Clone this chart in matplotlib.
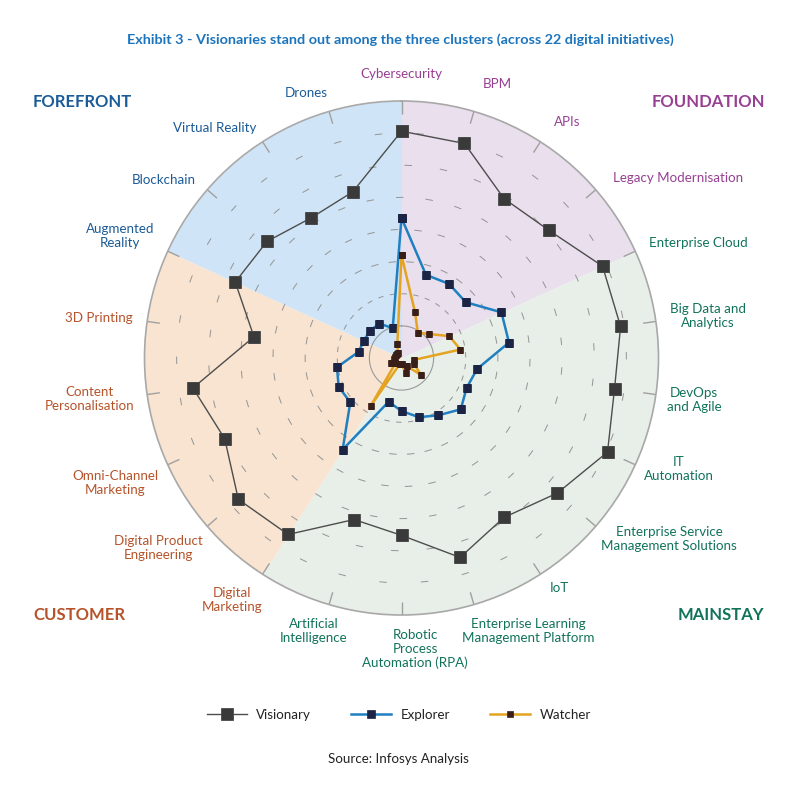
import numpy as np
import matplotlib
matplotlib.use("Agg")
import matplotlib.pyplot as plt
import matplotlib.font_manager as fm

# ---------------- data ----------------
categories = [
    "Cybersecurity", "BPM", "APIs", "Legacy Modernisation",
    "Enterprise Cloud", "Big Data and\nAnalytics", "DevOps\nand Agile", "IT\nAutomation",
    "Enterprise Service\nManagement Solutions", "IoT", "Enterprise Learning\nManagement Platform",
    "Robotic\nProcess\nAutomation (RPA)", "Artificial\nIntelligence",
    "Digital\nMarketing", "Digital Product\nEngineering", "Omni-Channel\nMarketing",
    "Content\nPersonalisation", "3D Printing",
    "Augmented\nReality", "Blockchain", "Virtual Reality", "Drones",
]
# cluster membership (in clockwise order starting at Cybersecurity)
groups = ["FOUNDATION", "MAINSTAY", "CUSTOMER", "FOREFRONT"]
group_sizes = [4, 9, 5, 4]

visionary = [70.6, 69.6, 59.0, 60.7, 68.8, 68.9, 67.0, 70.5, 64.2, 59.0, 64.7,
             55.2, 52.4, 65.3, 67.2, 60.5, 65.6, 46.4, 56.9, 55.4, 51.9, 53.9]
explorer = [43.6, 27.0, 27.4, 26.5, 34.2, 33.8, 23.8, 22.3, 24.4, 21.2, 19.2,
            16.5, 14.2, 33.9, 21.1, 21.5, 20.3, 13.5, 12.9, 13.0, 12.7, 9.7]
watcher = [32.0, 14.9, 9.4, 11.4, 16.4, 18.5, 4.0, 4.2, 8.1, 3.0, 5.0,
           2.0, 2.0, 17.8, 2.5, 3.5, 2.5, 2.0, 2.0, 2.0, 2.0, 4.6]
series_names = ["Visionary", "Explorer", "Watcher"]
r_max = 80
ring_levels = [10, 20, 30, 40, 50, 60, 70]

# ---------------- style ----------------
group_fill = {"FOUNDATION": "#e9dfed", "MAINSTAY": "#e8efe9",
              "CUSTOMER": "#f8e4d0", "FOREFRONT": "#cfe5f7"}
group_text = {"FOUNDATION": "#973f93", "MAINSTAY": "#11735a",
              "CUSTOMER": "#b5532a", "FOREFRONT": "#1b5b98"}
title_color = "#1c75bc"

names = {f.name for f in fm.fontManager.ttflist}
title_family = "Liberation Sans Narrow" if "Liberation Sans Narrow" in names else "Lato"
label_family = ["Lato", "DejaVu Sans"]

fig = plt.figure(figsize=(8.0, 7.98), dpi=100)
W, H = 800.0, 798.0
cx, cy, R = 401.5, 358.0, 257.0
ax = fig.add_axes([(cx - R) / W, 1 - (cy + R) / H, 2 * R / W, 2 * R / H], projection="polar")
ax.set_theta_offset(np.pi / 2)
ax.set_theta_direction(-1)
ax.set_ylim(0, r_max)
ax.set_xticks([])
ax.set_yticks([])
ax.grid(False)
ax.patch.set_alpha(0)
ax.spines["polar"].set_color("#a8a8a8")
ax.spines["polar"].set_linewidth(1.2)

n = len(categories)
theta = np.arange(n) * 2 * np.pi / n

# sectors
start = 0
cat_group = []
for g, size in zip(groups, group_sizes):
    t0 = theta[start]
    t1 = 2 * np.pi if start + size >= n else theta[start + size]
    tt = np.linspace(t0, t1, 120)
    ax.fill_between(tt, 0, r_max, color=group_fill[g], lw=0, zorder=0)
    cat_group += [g] * size
    start += size

# rings
tc = np.linspace(0, 2 * np.pi, 721)
ax.plot(tc, np.full_like(tc, ring_levels[0]), color="#9a9a9a", lw=0.8, zorder=1)
lw_ring = 0.7
for k, lv in enumerate(ring_levels[1:]):
    rp = lv / r_max * R
    period_px = 2 * np.pi * rp / 34
    dash_px = min(7.5, period_px * 0.45)
    scale = 100 / 72 * lw_ring
    ax.plot(tc + k * 0.05, np.full_like(tc, lv), color="#949494", lw=lw_ring,
            linestyle=(0, (dash_px / scale, (period_px - dash_px) / scale)), zorder=1)
# outer ticks on spokes
for t in theta:
    ax.plot([t, t], [76.0, r_max], color="#a0a0a0", lw=1.0, zorder=1, solid_capstyle="butt")

# series
tclosed = np.append(theta, theta[0])
def closed(v):
    return np.append(v, v[0])

h1, = ax.plot(tclosed, closed(visionary), color="#4d4d4d", lw=1.0, marker="s", ms=8,
              mfc="#3a3a3a", mec="#4a4a4a", mew=0.6, zorder=3, label=series_names[0])
h2, = ax.plot(tclosed, closed(explorer), color="#1f7fc0", lw=1.8, marker="s", ms=6,
              mfc="#1b2444", mec="#1b2444", mew=0.5, zorder=4, label=series_names[1])
h3, = ax.plot(tclosed, closed(watcher), color="#e4a321", lw=1.8, marker="s", ms=4.5,
              mfc="#3a1e18", mec="#3a1e18", mew=0.5, zorder=5, label=series_names[2])

# category labels (pixel centres of label blocks)
label_pos = [
    (401, 74), (497, 84), (567, 122), (678, 178), (698, 243), (708, 316),
    (694, 400), (679, 469), (669, 539), (559, 588), (528, 631), (415, 649),
    (314, 631), (232, 600), (158, 548), (115, 483), (90, 399), (99, 318),
    (120, 236), (164, 180), (215, 128), (306, 93),
]
for lab, (px, py), g in zip(categories, label_pos, cat_group):
    fig.text(px / W, 1 - py / H, lab, ha="center", va="center", fontsize=9.6,
             family=label_family, color=group_text[g], linespacing=1.17)

group_pos = {"FOREFRONT": (82, 102), "FOUNDATION": (708, 102),
             "CUSTOMER": (79, 615), "MAINSTAY": (721, 615)}
for g in groups:
    px, py = group_pos[g]
    fig.text(px / W, 1 - py / H, g, ha="center", va="center", fontsize=12,
             family=label_family, fontweight="bold", color=group_text[g])

fig.text(0.5, 1 - 40 / H,
         "Exhibit 3 - Visionaries stand out among the three clusters (across 22 digital initiatives)",
         ha="center", va="center", fontsize=10.4, family=[title_family, "DejaVu Sans"],
         fontweight="bold", color=title_color)

leg = fig.legend(handles=[h1, h2, h3], loc="center", bbox_to_anchor=(0.4985, 1 - 715 / H),
                 ncol=3, frameon=False, handlelength=3.0, handletextpad=0.7,
                 columnspacing=3.0, prop={"family": label_family, "size": 9.6})
for t in leg.get_texts():
    t.set_color("#222222")

fig.text(398 / W, 1 - 759 / H, "Source: Infosys Analysis", ha="center", va="center",
         fontsize=9.6, family=label_family, color="#222222")

fig.savefig("out.png", dpi=100, facecolor="white")
